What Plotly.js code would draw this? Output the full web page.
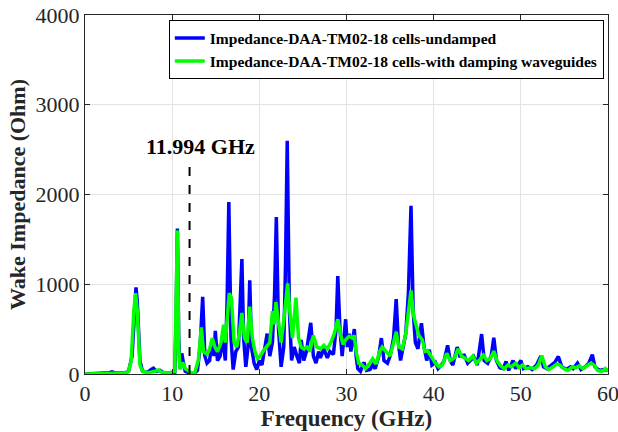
<!DOCTYPE html>
<html>
<head>
<meta charset="utf-8">
<script src="https://cdn.plot.ly/plotly-3.0.1.min.js"></script>
<style>html,body{margin:0;padding:0;background:#fff;}#chart{width:618px;height:432px;}</style>
</head>
<body>
<div id="chart"></div>
<script>
const freqUndamped = [0,2,2.8,3.1,3.5,4.5,5.0,5.4,5.7,5.85,6.0,6.3,6.6,7.2,7.6,7.85,8.2,8.6,9.0,9.8,10.3,10.45,10.6,10.75,10.9,11.1,11.3,11.5,12.0,12.5,12.9,13.2,13.5,13.75,14.0,14.3,14.55,14.8,14.95,15.2,15.5,15.8,16.1,16.3,16.5,16.75,17.0,17.3,17.6,17.85,18.0,18.2,18.45,18.7,18.9,19.1,19.4,19.7,20.0,20.3,20.6,20.9,21.2,21.5,21.75,21.95,22.2,22.5,22.8,23.0,23.2,23.45,23.7,24.0,24.3,24.6,24.8,25.1,25.4,25.7,25.9,26.2,26.5,26.8,27.0,27.4,27.8,28.1,28.5,28.8,29.0,29.25,29.5,29.7,29.9,30.1,30.3,30.5,30.7,30.9,31.1,31.3,31.6,32.0,32.3,32.7,33.0,33.3,33.7,34.0,34.3,34.7,35.0,35.4,35.7,35.95,36.2,36.5,36.8,37.1,37.4,37.65,37.9,38.2,38.6,38.9,39.2,39.5,39.8,40.2,40.5,40.9,41.2,41.6,41.9,42.2,42.7,43.0,43.5,43.9,44.2,44.6,45.0,45.5,45.8,46.2,46.6,46.9,47.2,47.6,48.0,48.3,48.6,49.1,49.4,50.0,50.3,50.8,51.3,51.8,52.3,52.6,53.0,53.5,53.9,54.3,54.7,55.2,55.7,56.0,56.5,56.9,57.4,57.8,58.2,58.5,59.0,59.5,60.0];
const impUndamped = [0,5,15,25,10,10,30,200,850,965,800,150,30,20,50,65,30,40,15,10,20,600,1620,400,60,230,120,30,10,5,40,300,860,200,120,150,380,200,480,150,200,400,150,800,1915,400,50,250,300,800,1280,400,80,300,1045,300,120,50,150,100,250,450,200,350,900,1750,500,80,300,1200,2600,700,150,300,200,120,380,150,250,450,570,200,120,250,180,280,180,250,220,500,1090,500,200,400,610,300,450,250,400,500,200,60,30,130,40,50,100,60,200,400,150,120,200,400,835,350,150,280,450,900,1875,700,350,280,565,300,150,270,100,130,60,100,150,320,150,100,300,200,210,120,150,190,100,445,150,120,200,405,150,70,60,140,40,150,60,150,60,80,50,100,200,80,60,100,130,195,80,50,80,60,120,50,80,120,215,80,40,50,40];

const freqDamped = [0,4.5,5.0,5.3,5.6,5.8,6.0,6.3,6.6,7.3,8.0,8.4,8.8,9.5,10.3,10.45,10.6,10.75,10.9,11.2,11.5,11.8,12.2,12.6,13.0,13.35,13.6,14.0,14.3,14.6,14.9,15.2,15.6,15.9,16.1,16.3,16.55,16.8,17.1,17.4,17.7,18.0,18.3,18.6,18.9,19.2,19.5,19.8,20.1,20.4,20.8,21.2,21.5,21.7,21.9,22.2,22.5,22.8,23.0,23.25,23.5,23.8,24.2,24.5,24.8,25.1,25.5,25.8,26.2,26.6,27.0,27.4,27.8,28.2,28.6,29.0,29.3,29.6,29.9,30.3,30.7,30.9,31.1,31.4,31.8,32.2,32.6,33.0,33.4,33.8,34.1,34.5,35.0,35.4,35.7,36.0,36.4,36.8,37.1,37.4,37.7,38.0,38.3,38.7,39.0,39.3,39.7,40.2,40.6,41.0,41.5,41.9,42.4,42.8,43.2,43.6,44.0,44.5,44.9,45.3,45.7,46.1,46.5,46.9,47.3,47.7,48.1,48.5,48.9,49.4,49.8,50.2,50.6,51.1,51.6,52.0,52.4,52.8,53.2,53.7,54.1,54.5,54.9,55.4,55.9,56.3,56.7,57.1,57.6,58.0,58.4,58.8,59.3,59.7,60.0];
const impDamped = [0,10,30,150,700,900,700,100,30,15,30,45,20,10,30,700,1600,300,50,130,60,40,10,20,150,520,250,220,280,400,300,250,350,550,350,600,900,850,350,300,450,680,400,350,750,400,250,170,200,250,300,350,700,550,800,550,350,600,800,1010,700,400,850,400,300,280,300,250,430,300,280,320,280,350,450,610,450,330,380,420,400,430,250,120,100,60,110,170,110,250,300,250,200,350,470,300,280,450,700,930,650,550,430,380,250,260,200,120,80,100,230,150,180,280,200,170,150,200,120,160,210,150,170,255,140,90,60,100,80,120,70,100,60,70,60,100,205,80,50,80,110,100,60,40,80,70,90,60,100,120,100,40,30,60,30];

const seriesNames = ['Impedance-DAA-TM02-18 cells-undamped','Impedance-DAA-TM02-18 cells-with damping waveguides'];
const xTicks = [0,10,20,30,40,50,60];
const yTicks = [0,1000,2000,3000,4000];
const markerFreq = 11.994;
const markerLabel = '11.994 GHz';

const serif = 'Liberation Serif, Times New Roman, serif';
const traces = [
  {x: freqUndamped, y: impUndamped, type: 'scatter', mode: 'lines', name: seriesNames[0],
   line: {color: '#0000ff', width: 3.5}},
  {x: freqDamped, y: impDamped, type: 'scatter', mode: 'lines', name: seriesNames[1],
   line: {color: '#00ff00', width: 3.5}}
];
const axisCommon = {
  showline: true, linecolor: '#262626', linewidth: 1, mirror: 'ticks',
  ticks: 'inside', ticklen: 5, tickcolor: '#262626',
  showgrid: true, gridcolor: '#e3e3e3', gridwidth: 1, zeroline: false,
  ticklabeloverflow: 'allow',
  tickfont: {family: serif, size: 22, color: '#262626'}
};
const layout = {
  width: 618, height: 432,
  margin: {l: 85, r: 10, t: 15, b: 58},
  paper_bgcolor: '#ffffff', plot_bgcolor: '#ffffff',
  showlegend: true,
  legend: {x: 0.992, y: 0.985, xanchor: 'right', yanchor: 'top',
    bgcolor: '#ffffff', bordercolor: '#000000', borderwidth: 1,
    font: {family: serif, size: 15.5, color: '#000000', weight: 'bold'},
    tracegroupgap: 0, itemwidth: 30},
  xaxis: Object.assign({}, axisCommon, {range: [0, 60], tickvals: xTicks,
    title: {text: '<b>Frequency (GHz)</b>', font: {family: serif, size: 23, color: '#262626'}, standoff: 1}}),
  yaxis: Object.assign({}, axisCommon, {range: [0, 4000], tickvals: yTicks,
    title: {text: '<b>Wake Impedance (Ohm)</b>', font: {family: serif, size: 22, color: '#262626'}, standoff: 3}}),
  shapes: [{type: 'line', xref: 'x', yref: 'y', x0: markerFreq, x1: markerFreq, y0: 0, y1: 2400,
    line: {color: '#000000', width: 2, dash: 'dash'}}],
  annotations: [{xref: 'x', yref: 'y', x: markerFreq + 1.3, y: 2540, text: '<b>' + markerLabel + '</b>',
    showarrow: false, font: {family: serif, size: 22, color: '#000000'}}]
};
Plotly.newPlot('chart', traces, layout, {displayModeBar: false, staticPlot: true});
</script>
</body>
</html>
